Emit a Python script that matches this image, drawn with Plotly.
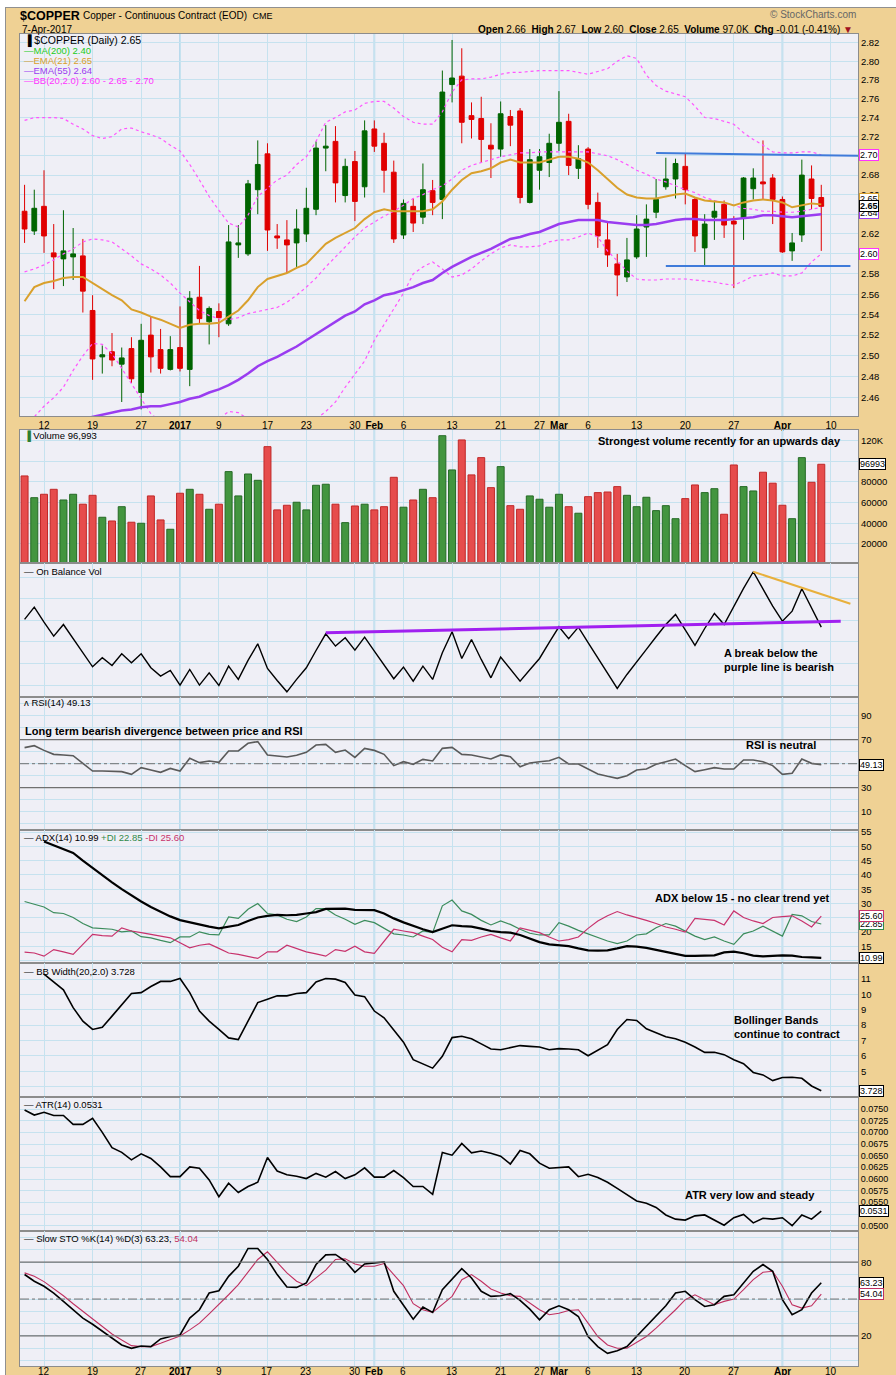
import math
import plotly.graph_objects as go

# ---------------- data ----------------
dates = [
    "2016-12-08", "2016-12-09", "2016-12-12", "2016-12-13", "2016-12-14", "2016-12-15", "2016-12-16",
    "2016-12-19", "2016-12-20", "2016-12-21", "2016-12-22", "2016-12-23",
    "2016-12-27", "2016-12-28", "2016-12-29", "2016-12-30",
    "2017-01-03", "2017-01-04", "2017-01-05", "2017-01-06",
    "2017-01-09", "2017-01-10", "2017-01-11", "2017-01-12", "2017-01-13",
    "2017-01-17", "2017-01-18", "2017-01-19", "2017-01-20",
    "2017-01-23", "2017-01-24", "2017-01-25", "2017-01-26", "2017-01-27",
    "2017-01-30", "2017-01-31", "2017-02-01", "2017-02-02", "2017-02-03",
    "2017-02-06", "2017-02-07", "2017-02-08", "2017-02-09", "2017-02-10",
    "2017-02-13", "2017-02-14", "2017-02-15", "2017-02-16", "2017-02-17",
    "2017-02-21", "2017-02-22", "2017-02-23", "2017-02-24",
    "2017-02-27", "2017-02-28", "2017-03-01", "2017-03-02", "2017-03-03",
    "2017-03-06", "2017-03-07", "2017-03-08", "2017-03-09", "2017-03-10",
    "2017-03-13", "2017-03-14", "2017-03-15", "2017-03-16", "2017-03-17",
    "2017-03-20", "2017-03-21", "2017-03-22", "2017-03-23", "2017-03-24",
    "2017-03-27", "2017-03-28", "2017-03-29", "2017-03-30", "2017-03-31",
    "2017-04-03", "2017-04-04", "2017-04-05", "2017-04-06", "2017-04-07",
]
future_dates = ["2017-04-10", "2017-04-11", "2017-04-12", "2017-04-13"]

opens = [
    2.643, 2.623, 2.648, 2.601, 2.595, 2.597, 2.598, 2.544, 2.499, 2.504,
    2.492, 2.507, 2.465, 2.520, 2.506, 2.487, 2.508, 2.487, 2.557, 2.533,
    2.543, 2.531, 2.609, 2.600, 2.665, 2.702, 2.618, 2.614, 2.611, 2.620,
    2.645, 2.708, 2.715, 2.659, 2.694, 2.668, 2.728, 2.713, 2.683, 2.619,
    2.648, 2.637, 2.664, 2.655, 2.775, 2.784, 2.742, 2.739, 2.711, 2.707,
    2.741, 2.747, 2.652, 2.685, 2.693, 2.713, 2.736, 2.687, 2.707, 2.652,
    2.614, 2.590, 2.577, 2.597, 2.627, 2.642, 2.668, 2.676, 2.689, 2.655,
    2.606, 2.637, 2.650, 2.633, 2.636, 2.666, 2.673, 2.677, 2.655, 2.603,
    2.619, 2.676, 2.657,
]
highs = [
    2.670, 2.665, 2.685, 2.630, 2.644, 2.626, 2.615, 2.559, 2.510, 2.522,
    2.508, 2.518, 2.531, 2.538, 2.526, 2.519, 2.548, 2.563, 2.588, 2.548,
    2.551, 2.629, 2.629, 2.675, 2.716, 2.713, 2.630, 2.634, 2.645, 2.667,
    2.715, 2.732, 2.731, 2.697, 2.705, 2.737, 2.737, 2.724, 2.695, 2.655,
    2.656, 2.692, 2.675, 2.790, 2.823, 2.814, 2.756, 2.762, 2.734, 2.757,
    2.748, 2.750, 2.707, 2.707, 2.723, 2.768, 2.744, 2.711, 2.709, 2.662,
    2.633, 2.600, 2.616, 2.639, 2.650, 2.676, 2.698, 2.697, 2.702, 2.657,
    2.640, 2.654, 2.654, 2.638, 2.678, 2.687, 2.716, 2.681, 2.658, 2.621,
    2.696, 2.690, 2.670,
]
lows = [
    2.611, 2.619, 2.601, 2.565, 2.568, 2.574, 2.542, 2.477, 2.483, 2.490,
    2.456, 2.474, 2.449, 2.484, 2.483, 2.486, 2.485, 2.471, 2.531, 2.511,
    2.518, 2.529, 2.596, 2.598, 2.640, 2.603, 2.605, 2.581, 2.587, 2.612,
    2.639, 2.684, 2.652, 2.652, 2.633, 2.657, 2.704, 2.662, 2.611, 2.615,
    2.622, 2.630, 2.639, 2.635, 2.756, 2.713, 2.718, 2.693, 2.677, 2.699,
    2.710, 2.651, 2.651, 2.665, 2.678, 2.705, 2.680, 2.676, 2.645, 2.606,
    2.587, 2.558, 2.572, 2.595, 2.597, 2.636, 2.665, 2.656, 2.650, 2.602,
    2.588, 2.614, 2.616, 2.566, 2.614, 2.655, 2.655, 2.630, 2.601, 2.593,
    2.612, 2.645, 2.603,
]
closes = [
    2.625, 2.646, 2.618, 2.597, 2.603, 2.600, 2.563, 2.497, 2.501, 2.496,
    2.498, 2.478, 2.515, 2.499, 2.488, 2.506, 2.488, 2.556, 2.536, 2.546,
    2.537, 2.612, 2.611, 2.671, 2.691, 2.624, 2.616, 2.609, 2.625, 2.646,
    2.708, 2.710, 2.672, 2.689, 2.653, 2.726, 2.710, 2.685, 2.615, 2.651,
    2.631, 2.665, 2.652, 2.767, 2.782, 2.735, 2.738, 2.717, 2.707, 2.744,
    2.732, 2.657, 2.696, 2.699, 2.713, 2.735, 2.690, 2.697, 2.650, 2.618,
    2.599, 2.579, 2.594, 2.625, 2.635, 2.655, 2.676, 2.692, 2.665, 2.618,
    2.630, 2.643, 2.629, 2.630, 2.677, 2.677, 2.671, 2.655, 2.602, 2.611,
    2.680, 2.656, 2.648,
]
volumes = [
    85700, 64700, 68000, 72800, 62500, 68000, 58400, 67000, 45800, 42200,
    56000, 41000, 40000, 66400, 43200, 34200, 69000, 72800, 68000, 53500,
    58400, 89900, 66400, 87600, 81500, 114000, 52900, 57400, 60300, 52900,
    76700, 77700, 58400, 40600, 56700, 58400, 52900, 56000, 84400, 55500,
    62500, 72800, 64700, 124600, 91500, 120500, 86700, 103400, 74400, 94700,
    57000, 53500, 66400, 63200, 55500, 68000, 56000, 49700, 65700, 69600,
    70200, 75400, 67000, 56000, 65100, 52200, 57000, 44400, 63800, 77000,
    69600, 73400, 48700, 96300, 75400, 71200, 89300, 78700, 57400, 44400,
    103400, 79600, 96993,
]
ema21 = [
    2.553, 2.567, 2.571, 2.573, 2.576, 2.577, 2.577, 2.571, 2.565, 2.559,
    2.554, 2.545, 2.542, 2.538, 2.535, 2.531, 2.527, 2.530, 2.531, 2.531,
    2.532, 2.538, 2.544, 2.554, 2.567, 2.575, 2.578, 2.581, 2.586, 2.590,
    2.600, 2.610, 2.616, 2.621, 2.626, 2.635, 2.642, 2.645, 2.643, 2.643,
    2.643, 2.643, 2.645, 2.653, 2.665, 2.675, 2.682, 2.684, 2.687, 2.693,
    2.696, 2.693, 2.693, 2.693, 2.696, 2.699, 2.699, 2.697, 2.693, 2.685,
    2.676, 2.667, 2.660, 2.657, 2.656, 2.656, 2.658, 2.660, 2.661, 2.657,
    2.654, 2.653, 2.652, 2.649, 2.652, 2.654, 2.655, 2.654, 2.652, 2.647,
    2.649, 2.651, 2.650,
]
ema55 = [
    2.425, 2.428, 2.431, 2.434, 2.436, 2.438, 2.440, 2.442, 2.444, 2.446,
    2.448, 2.449, 2.451, 2.452, 2.452, 2.454, 2.456, 2.459, 2.461, 2.465,
    2.468, 2.472, 2.477, 2.483, 2.490, 2.495, 2.499, 2.504, 2.509, 2.515,
    2.521, 2.527, 2.533, 2.539, 2.543, 2.550, 2.554, 2.559, 2.561, 2.564,
    2.567, 2.571, 2.574, 2.581, 2.587, 2.592, 2.597, 2.601, 2.605, 2.610,
    2.615, 2.617, 2.620, 2.622, 2.626, 2.630, 2.632, 2.634, 2.634, 2.634,
    2.632, 2.631, 2.630, 2.629, 2.629, 2.630, 2.632, 2.634, 2.635, 2.635,
    2.634, 2.634, 2.634, 2.635, 2.636, 2.637, 2.639, 2.639, 2.638, 2.637,
    2.638, 2.639, 2.640,
]
bb_upper = [
    2.737, 2.740, 2.740, 2.740, 2.739, 2.733, 2.728, 2.721, 2.718, 2.720,
    2.728, 2.729, 2.725, 2.722, 2.718, 2.711, 2.705, 2.691, 2.675, 2.658,
    2.644, 2.631, 2.627, 2.639, 2.658, 2.667, 2.675, 2.680, 2.691, 2.699,
    2.715, 2.735, 2.740, 2.746, 2.748, 2.755, 2.757, 2.757, 2.750, 2.741,
    2.735, 2.733, 2.733, 2.746, 2.767, 2.780, 2.781, 2.781, 2.783, 2.786,
    2.788, 2.788, 2.789, 2.790, 2.790, 2.790, 2.790, 2.788, 2.786, 2.789,
    2.792, 2.800, 2.806, 2.803, 2.785, 2.774, 2.768, 2.765, 2.762, 2.752,
    2.740, 2.739, 2.736, 2.733, 2.724, 2.717, 2.711, 2.704, 2.703, 2.703,
    2.704, 2.704, 2.701,
]
bb_mid = [
    2.582, 2.585, 2.589, 2.594, 2.600, 2.605, 2.612, 2.615, 2.614, 2.612,
    2.605, 2.598, 2.590, 2.585, 2.579, 2.571, 2.561, 2.552, 2.544, 2.539,
    2.536, 2.535, 2.537, 2.541, 2.543, 2.545, 2.547, 2.552, 2.559, 2.567,
    2.576, 2.587, 2.597, 2.607, 2.617, 2.626, 2.632, 2.638, 2.643, 2.649,
    2.656, 2.660, 2.665, 2.669, 2.676, 2.685, 2.690, 2.693, 2.696, 2.699,
    2.701, 2.703, 2.703, 2.704, 2.704, 2.704, 2.704, 2.704, 2.704, 2.702,
    2.700, 2.696, 2.691, 2.685, 2.681, 2.676, 2.673, 2.669, 2.665, 2.662,
    2.657, 2.654, 2.651, 2.649, 2.646, 2.645, 2.643, 2.643, 2.642, 2.642,
    2.643, 2.645, 2.647,
]
bb_lower = [
    2.428, 2.442, 2.452, 2.460, 2.470, 2.486, 2.500, 2.512, 2.511, 2.502,
    2.488, 2.473, 2.459, 2.445, 2.438, 2.430, 2.420, 2.413, 2.412, 2.425,
    2.440, 2.447, 2.446, 2.440, 2.430, 2.424, 2.420, 2.424, 2.428, 2.436,
    2.440, 2.447, 2.456, 2.470, 2.483, 2.495, 2.515, 2.530, 2.546, 2.561,
    2.580, 2.587, 2.592, 2.585, 2.577, 2.579, 2.585, 2.593, 2.600, 2.606,
    2.609, 2.607, 2.607, 2.608, 2.612, 2.614, 2.614, 2.617, 2.621, 2.617,
    2.603, 2.593, 2.583, 2.575, 2.574, 2.574, 2.575, 2.575, 2.575, 2.574,
    2.573, 2.572, 2.570, 2.569, 2.573, 2.578, 2.579, 2.581, 2.578, 2.578,
    2.581, 2.592, 2.600,
]
obv = [
    809, 923, 784, 654, 762, 633, 494, 370, 454, 382,
    491, 407, 491, 361, 284, 336, 200, 345, 200, 314,
    197, 376, 253, 429, 583, 355, 243, 138, 253, 361,
    521, 676, 562, 639, 525, 645, 515, 392, 259, 367,
    237, 376, 253, 500, 695, 447, 623, 438, 268, 460,
    345, 237, 342, 447, 596, 741, 630, 738, 593, 454,
    314, 169, 299, 410, 531, 648, 762, 855, 707, 568,
    725, 864, 762, 936, 1096, 1251, 1093, 932, 793, 886,
    1093, 920, 738,
]
rsi = [
    63.4, 65.0, 61.1, 57.8, 57.3, 56.7, 50.3, 43.9, 43.9, 43.6,
    43.4, 41.1, 46.7, 44.8, 42.8, 46.1, 43.9, 54.5, 50.9, 52.3,
    51.1, 60.6, 60.6, 67.0, 68.4, 57.3, 56.4, 55.6, 57.0, 59.5,
    65.6, 66.1, 59.5, 61.4, 55.3, 62.8, 61.1, 57.8, 48.4, 51.7,
    49.5, 53.6, 52.3, 62.8, 63.6, 57.8, 57.3, 55.6, 53.9, 57.3,
    55.9, 47.5, 50.6, 51.7, 52.5, 55.3, 49.8, 49.8, 45.6, 41.4,
    39.5, 37.8, 40.0, 44.8, 45.6, 49.5, 51.7, 53.9, 48.4, 43.4,
    45.0, 46.7, 45.6, 45.6, 53.1, 53.1, 51.7, 48.4, 41.1, 42.0,
    53.9, 50.3, 49.13,
]
adx = [
    None, None, 51.7, 50.3, 49.1, 47.7, 45.0, 42.4, 39.7, 37.4,
    35.0, 32.7, 30.7, 28.8, 27.2, 25.5, 24.2, 23.4, 22.7, 21.9,
    21.3, 21.8, 22.5, 23.9, 25.1, 25.7, 26.0, 25.9, 26.0, 26.5,
    27.0, 28.1, 28.2, 28.2, 27.8, 27.7, 27.7, 26.5, 24.8, 23.4,
    22.1, 21.0, 20.0, 21.3, 22.4, 22.1, 21.9, 21.2, 20.4, 20.0,
    19.8, 19.0, 17.8, 16.5, 15.7, 15.4, 15.1, 14.3, 13.6, 13.5,
    13.6, 14.3, 15.1, 14.9, 14.5, 13.8, 13.1, 12.4, 11.7, 11.7,
    11.9, 11.9, 12.9, 13.2, 12.6, 11.8, 11.5, 11.7, 11.9, 11.8,
    11.3, 11.2, 10.99,
]
plus_di = [
    30.7, 29.8, 28.8, 26.8, 26.5, 25.1, 23.0, 21.5, 21.2, 21.0,
    20.1, 20.4, 18.4, 18.0, 17.1, 16.3, 18.3, 18.3, 20.1, 19.2,
    19.0, 25.3, 24.8, 28.0, 30.0, 26.5, 26.0, 24.5, 23.7, 25.3,
    28.2, 28.2, 26.0, 24.5, 22.7, 24.1, 23.3, 21.2, 19.4, 19.0,
    18.3, 20.4, 19.8, 29.2, 31.2, 27.4, 26.2, 24.1, 22.5, 23.9,
    22.7, 21.0, 19.6, 19.0, 19.0, 23.3, 22.1, 20.6, 19.4, 18.0,
    16.9, 16.0, 16.9, 19.0, 19.4, 21.5, 23.0, 22.1, 20.4, 18.6,
    17.4, 18.3, 16.9, 15.7, 19.4, 20.4, 22.1, 20.4, 18.6, 26.2,
    25.7, 23.7, 22.85,
]
minus_di = [
    13.0, 12.7, 11.6, 13.9, 13.1, 12.2, 15.7, 19.2, 18.8, 18.6,
    21.5, 20.4, 19.8, 19.2, 18.6, 18.0, 16.3, 14.5, 15.4, 15.9,
    14.3, 12.7, 12.2, 11.5, 10.8, 13.1, 13.1, 15.4, 14.3, 13.1,
    12.4, 11.6, 13.9, 13.3, 15.1, 13.1, 12.6, 16.9, 21.0, 20.4,
    19.8, 18.6, 17.4, 14.7, 13.1, 17.4, 17.1, 18.3, 19.2, 18.0,
    16.9, 21.5, 20.6, 19.8, 18.3, 16.9, 17.4, 18.3, 21.3, 23.9,
    25.7, 27.2, 26.0, 25.1, 24.1, 23.0, 21.8, 21.0, 20.0, 24.8,
    24.5, 24.1, 22.5, 27.4, 25.1, 23.9, 23.0, 25.1, 25.4, 25.7,
    23.9, 21.8, 25.6,
]
bb_width = [
    None, None, 11.33, 10.82, 10.30, 9.14, 8.26, 7.72, 7.87, 8.59,
    9.36, 10.06, 10.12, 10.52, 10.85, 10.85, 11.04, 10.12, 8.92, 8.26,
    7.72, 7.17, 7.06, 8.26, 9.47, 9.69, 9.91, 9.91, 10.06, 10.12,
    10.82, 11.04, 11.00, 10.78, 9.97, 9.86, 8.92, 8.48, 7.72, 6.89,
    5.75, 5.49, 5.20, 5.97, 7.19, 7.28, 7.11, 6.78, 6.45, 6.40,
    6.56, 6.67, 6.62, 6.58, 6.40, 6.47, 6.45, 6.40, 6.01, 6.36,
    6.73, 7.72, 8.37, 8.31, 7.76, 7.50, 7.24, 7.11, 6.89, 6.58,
    6.23, 6.23, 6.08, 5.75, 5.49, 4.92, 4.76, 4.39, 4.59, 4.61,
    4.54, 4.04, 3.728,
]
atr = [
    0.0748, 0.0737, 0.0743, 0.0736, 0.0736, 0.0717, 0.0717, 0.0730, 0.0700, 0.0667,
    0.0657, 0.0641, 0.0654, 0.0644, 0.0626, 0.0605, 0.0605, 0.0626, 0.0623, 0.0598,
    0.0562, 0.0591, 0.0571, 0.0584, 0.0593, 0.0646, 0.0617, 0.0609, 0.0606, 0.0601,
    0.0612, 0.0604, 0.0616, 0.0601, 0.0609, 0.0624, 0.0604, 0.0604, 0.0618, 0.0603,
    0.0584, 0.0584, 0.0567, 0.0657, 0.0651, 0.0676, 0.0656, 0.0660, 0.0655, 0.0649,
    0.0632, 0.0661, 0.0654, 0.0634, 0.0623, 0.0624, 0.0626, 0.0605, 0.0610, 0.0603,
    0.0593, 0.0580, 0.0566, 0.0553, 0.0548, 0.0539, 0.0523, 0.0514, 0.0512, 0.0521,
    0.0523, 0.0512, 0.0501, 0.0517, 0.0524, 0.0506, 0.0516, 0.0514, 0.0517, 0.0500,
    0.0523, 0.0514, 0.0531,
]
sto_k = [
    70.0, 64.5, 60.4, 54.9, 48.1, 41.3, 34.5, 29.5, 24.1, 18.1,
    12.6, 9.9, 11.8, 11.3, 17.5, 19.5, 20.8, 34.5, 41.3, 54.9,
    56.8, 68.5, 76.7, 91.2, 91.2, 82.2, 69.9, 59.8, 59.5, 63.1,
    78.1, 86.0, 86.3, 80.8, 71.8, 78.6, 79.5, 80.3, 56.3, 45.4,
    33.6, 43.5, 39.1, 57.6, 65.8, 74.8, 67.2, 56.3, 52.2, 52.7,
    54.4, 48.9, 41.8, 33.1, 41.3, 44.5, 41.3, 35.8, 19.5, 11.3,
    5.8, 8.0, 11.3, 19.5, 27.6, 36.4, 44.5, 54.9, 56.3, 49.5,
    44.0, 45.4, 52.2, 53.5, 63.1, 72.6, 78.1, 72.6, 49.5, 37.2,
    41.3, 54.9, 63.23,
]
sto_d = [
    71.3, 68.5, 64.2, 58.7, 52.7, 46.2, 39.9, 33.6, 27.6, 21.6,
    16.7, 12.1, 11.3, 11.3, 14.0, 16.7, 20.0, 24.9, 30.4, 38.0,
    45.4, 53.5, 61.7, 71.8, 82.2, 88.5, 79.5, 71.3, 64.5, 60.9,
    67.2, 73.5, 82.2, 82.7, 78.6, 76.7, 76.7, 78.9, 69.9, 60.9,
    46.2, 41.3, 39.1, 45.4, 52.2, 65.8, 69.9, 64.5, 58.2, 54.9,
    52.7, 52.2, 46.7, 41.3, 37.2, 38.5, 40.7, 41.3, 30.4, 19.5,
    12.6, 9.9, 9.9, 14.5, 19.5, 26.3, 33.6, 41.3, 49.5, 53.5,
    49.5, 45.4, 48.1, 50.0, 57.6, 65.8, 71.8, 72.6, 60.4, 45.4,
    42.6, 44.5, 54.04,
]

# hand-drawn trend lines (dates, values)
price_resist_dates = ["2017-03-15", "2017-04-13"]
price_resist_vals = [2.703, 2.700]
price_support_dates = ["2017-03-16", "2017-04-12"]
price_support_vals = [2.588, 2.588]
obv_support_dates = ["2017-01-25", "2017-04-11"]
obv_support_vals = [685, 793]
obv_resist_dates = ["2017-03-29", "2017-04-12"]
obv_resist_vals = [1251, 954]

tick_dates = ["2016-12-12", "2016-12-19", "2016-12-27", "2017-01-03", "2017-01-09",
              "2017-01-17", "2017-01-23", "2017-01-30", "2017-02-01", "2017-02-06",
              "2017-02-13", "2017-02-21", "2017-02-27", "2017-03-01", "2017-03-06",
              "2017-03-13", "2017-03-20", "2017-03-27", "2017-04-03", "2017-04-10"]
tick_text = ["12", "19", "27", "<b>2017</b>", "9", "17", "23", "30", "<b>Feb</b>", "6",
             "13", "21", "27", "<b>Mar</b>", "6", "13", "20", "27", "<b>Apr</b>", "10"]
month_dates = ["2017-01-03", "2017-02-01", "2017-03-01", "2017-04-03"]

# ---------------- geometry / style ----------------
W, H = 896, 1375
LEFT, RIGHT, TOP, BOTTOM = 20, 858, 34, 1366
PANELS = [(34, 416), (430, 563), (563, 697), (697, 830),
          (830, 963), (963, 1097), (1097, 1231), (1231, 1366)]

TAN = "#EFD194"
PLOT_BG = "#EFEFF6"
GRID = "#C6E2EF"
BORDER = "#8C8C8C"
UP = "#006400"
DOWN = "#E00000"
FONT = "Liberation Sans, Arial, sans-serif"


def px(x):
    return (x - LEFT) / (RIGHT - LEFT)


def py(y):
    return (BOTTOM - y) / (BOTTOM - TOP)


axis_dates = dates + future_dates
pos = {d: i for i, d in enumerate(axis_dates)}
xs = [pos[d] for d in dates]
tick_pos = [pos[d] for d in tick_dates]
x_range = [-0.47, 85.78]

fig = go.Figure()

# ---- price panel ----
for series in (bb_upper, bb_mid, bb_lower):
    fig.add_trace(go.Scatter(x=xs, y=series, mode="lines", xaxis="x", yaxis="y",
                             line=dict(color="#FF55FF", width=1.2, dash="dot"), hoverinfo="skip"))
fig.add_trace(go.Scatter(x=xs, y=ema55, mode="lines", xaxis="x", yaxis="y",
                         line=dict(color="#9A3CF0", width=2.5), hoverinfo="skip"))
fig.add_trace(go.Scatter(x=xs, y=ema21, mode="lines", xaxis="x", yaxis="y",
                         line=dict(color="#D9A02C", width=2), hoverinfo="skip"))
for ds, vs in [(price_resist_dates, price_resist_vals), (price_support_dates, price_support_vals)]:
    fig.add_trace(go.Scatter(x=[pos[d] for d in ds], y=vs, mode="lines", xaxis="x", yaxis="y",
                             line=dict(color="#3F7BDA", width=2), hoverinfo="skip"))
fig.add_trace(go.Candlestick(
    x=xs, open=opens, high=highs, low=lows, close=closes, xaxis="x", yaxis="y",
    increasing=dict(line=dict(color=UP, width=1), fillcolor=UP),
    decreasing=dict(line=dict(color=DOWN, width=1), fillcolor=DOWN),
    whiskerwidth=0, hoverinfo="skip"))

# ---- volume ----
up_day = [c >= o for o, c in zip(opens, closes)]
fig.add_trace(go.Bar(
    x=xs, y=volumes, xaxis="x2", yaxis="y2", width=0.72,
    marker=dict(color=["#43953F" if u else "#E64C4C" for u in up_day],
                line=dict(color=["#256A25" if u else "#C02828" for u in up_day], width=1)),
    hoverinfo="skip"))

# ---- OBV ----
fig.add_trace(go.Scatter(x=xs, y=obv, mode="lines", xaxis="x3", yaxis="y3",
                         line=dict(color="black", width=1.4), hoverinfo="skip"))
fig.add_trace(go.Scatter(x=[pos[d] for d in obv_support_dates], y=obv_support_vals, mode="lines",
                         xaxis="x3", yaxis="y3", line=dict(color="#A020F0", width=3), hoverinfo="skip"))
fig.add_trace(go.Scatter(x=[pos[d] for d in obv_resist_dates], y=obv_resist_vals, mode="lines",
                         xaxis="x3", yaxis="y3", line=dict(color="#E8B03C", width=2), hoverinfo="skip"))

# ---- RSI ----
fig.add_trace(go.Scatter(x=xs, y=rsi, mode="lines", xaxis="x4", yaxis="y4",
                         line=dict(color="#5A5A5A", width=1.6), hoverinfo="skip"))

# ---- ADX ----
fig.add_trace(go.Scatter(x=xs, y=plus_di, mode="lines", xaxis="x5", yaxis="y5",
                         line=dict(color="#3C8C5C", width=1.2), hoverinfo="skip"))
fig.add_trace(go.Scatter(x=xs, y=minus_di, mode="lines", xaxis="x5", yaxis="y5",
                         line=dict(color="#C8326C", width=1.2), hoverinfo="skip"))
fig.add_trace(go.Scatter(x=xs, y=adx, mode="lines", xaxis="x5", yaxis="y5",
                         line=dict(color="black", width=2.2), hoverinfo="skip"))

# ---- BB width / ATR ----
fig.add_trace(go.Scatter(x=xs, y=bb_width, mode="lines", xaxis="x6", yaxis="y6",
                         line=dict(color="black", width=1.6), hoverinfo="skip"))
fig.add_trace(go.Scatter(x=xs, y=atr, mode="lines", xaxis="x7", yaxis="y7",
                         line=dict(color="black", width=1.6), hoverinfo="skip"))

# ---- Slow stochastic ----
fig.add_trace(go.Scatter(x=xs, y=sto_d, mode="lines", xaxis="x8", yaxis="y8",
                         line=dict(color="#C03060", width=1.1), hoverinfo="skip"))
fig.add_trace(go.Scatter(x=xs, y=sto_k, mode="lines", xaxis="x8", yaxis="y8",
                         line=dict(color="black", width=1.6), hoverinfo="skip"))


# ---------------- axes ----------------
def lab(vals, hidden, fmt):
    # labels that sit under a value tag are left blank
    return ["" if v in hidden else fmt(v) for v in vals]


price_ticks = [round(2.46 + 0.02 * k, 2) for k in range(19)]
atr_ticks = [round(0.05 + 0.0025 * k, 4) for k in range(11)]
y_specs = [
    dict(type="log", range=[math.log10(2.4428), math.log10(2.8295)], tickvals=price_ticks,
         ticktext=lab(price_ticks, {2.60, 2.64, 2.70}, lambda v: "%.2f" % v)),
    dict(range=[1600, 130100], tickvals=[20000, 40000, 60000, 80000, 100000, 120000],
         ticktext=["20000", "40000", "60000", "80000", "", "120K"]),
    dict(range=[90, 1332], tickvals=[200, 400, 600, 800, 1000, 1200], showticklabels=False),
    dict(range=[-5.25, 105.6], tickvals=list(range(0, 101, 10)),
         ticktext=["", "10", "", "30", "", "", "", "70", "", "90", ""]),
    dict(range=[9.2, 55.7], tickvals=list(range(10, 56, 5)),
         ticktext=lab(list(range(10, 56, 5)), {10, 25}, str)),
    dict(range=[3.32, 12.05], tickvals=list(range(4, 12)),
         ticktext=lab(list(range(4, 12)), {4}, str)),
    dict(range=[0.04886, 0.07757], tickvals=atr_ticks,
         ticktext=lab(atr_ticks, {0.0525}, lambda v: "%.4f" % v), tickfont=dict(size=9, family=FONT)),
    dict(range=[-4.5, 105.4], tickvals=list(range(0, 101, 10)),
         ticktext=["", "", "20", "", "", "", "", "", "80", "", ""]),
]

layout = dict(
    width=W, height=H,
    margin=dict(l=LEFT, r=W - RIGHT, t=TOP, b=H - BOTTOM, autoexpand=False),
    paper_bgcolor=TAN, plot_bgcolor=PLOT_BG, showlegend=False,
    font=dict(family=FONT, size=10, color="black"),
)
for k, ((top, bot), ys) in enumerate(zip(PANELS, y_specs), start=1):
    sfx = "" if k == 1 else str(k)
    layout["xaxis" + sfx] = dict(
        anchor="y" + sfx, domain=[0, 1], range=x_range, tickvals=tick_pos, ticktext=tick_text,
        showticklabels=(k == 1), ticks="", showgrid=True, gridcolor=GRID, gridwidth=1,
        zeroline=False, showline=True, mirror=True, linecolor=BORDER, linewidth=1,
        tickfont=dict(size=10, family=FONT), fixedrange=True, rangeslider=dict(visible=False),
        automargin=False,
    )
    ax = dict(anchor="x" + sfx, domain=[py(bot), py(top)], side="right", ticks="",
              showgrid=True, gridcolor=GRID, gridwidth=1, zeroline=False, showline=True,
              mirror=True, linecolor=BORDER, linewidth=1, tickfont=dict(size=9.5, family=FONT),
              fixedrange=True, automargin=False)
    ax.update(ys)
    layout["yaxis" + sfx] = ax
fig.update_layout(**layout)

shapes = []
# slightly stronger month-boundary grid lines in every panel
for k, (top, bot) in enumerate(PANELS, start=1):
    sfx = "" if k == 1 else str(k)
    for d in month_dates:
        shapes.append(dict(type="line", xref="x" + sfx, yref="paper", x0=pos[d], x1=pos[d],
                           y0=py(bot), y1=py(top), line=dict(color="#B2D8EC", width=1.8),
                           layer="below"))
# reference lines
for yref, val, dash in [("y4", 70, "solid"), ("y4", 30, "solid"), ("y4", 50, "dashdot"),
                        ("y8", 80, "solid"), ("y8", 20, "solid"), ("y8", 50, "dashdot")]:
    shapes.append(dict(type="line", xref="paper", x0=0, x1=1, yref=yref, y0=val, y1=val,
                       line=dict(color="#707070", width=1.2 if dash == "solid" else 1, dash=dash),
                       layer="above"))
# white strip and frame at the very top / left
shapes.append(dict(type="rect", xref="paper", yref="paper", x0=px(0), x1=px(W), y0=py(7), y1=py(0),
                   fillcolor="white", line=dict(width=0), layer="below"))
shapes.append(dict(type="rect", xref="paper", yref="paper", x0=px(0), x1=px(5), y0=py(H), y1=py(0),
                   fillcolor="white", line=dict(width=0), layer="below"))
shapes.append(dict(type="line", xref="paper", yref="paper", x0=px(5), x1=px(W), y0=py(7.5), y1=py(7.5),
                   line=dict(color="#909090", width=1)))
shapes.append(dict(type="line", xref="paper", yref="paper", x0=px(5.5), x1=px(5.5), y0=py(H), y1=py(7.5),
                   line=dict(color="#909090", width=1)))
fig.update_layout(shapes=shapes)

# ---------------- text ----------------
ann = []


def note(x, y, text, size=10, color="black", xanchor="left", yanchor="middle", align="left"):
    ann.append(dict(xref="paper", yref="paper", x=px(x), y=py(y), text=text, showarrow=False,
                    xanchor=xanchor, yanchor=yanchor, align=align,
                    font=dict(size=size, color=color, family=FONT)))


def tag(yref, yval, text, border, bold=False, color="black"):
    ann.append(dict(xref="paper", x=1.0, xanchor="left", xshift=1, yref=yref, y=yval,
                    yanchor="middle", showarrow=False, text="<b>%s</b>" % text if bold else text,
                    bordercolor=border, borderwidth=1, borderpad=0, bgcolor="white",
                    font=dict(size=9, color=color, family=FONT)))


# bottom date labels, sitting just under the last panel (partly cut by the page edge)
for p, t in zip(tick_pos, tick_text):
    ann.append(dict(xref="x8", x=p, yref="paper", y=py(1371), text=t, showarrow=False,
                    xanchor="center", yanchor="middle", font=dict(size=10, family=FONT)))

# header
note(18, 16, "<b>$COPPER</b>", size=12.5)
note(81, 16, "Copper - Continuous Contract (EOD)  <span style='font-size:9px'>CME</span>", size=10)
note(20, 29, "7-Apr-2017", size=10)
note(858, 15, "\u00a9 StockCharts.com", size=10, color="#666666", xanchor="right")
note(855, 29, "<b>Open</b> 2.66  <b>High</b> 2.67  <b>Low</b> 2.60  <b>Close</b> 2.65  "
     "<b>Volume</b> 97.0K  <b>Chg</b> -0.01 (-0.41%) <span style='color:#A01020'>\u25BC</span>",
     size=10, xanchor="right")

# indicator legends
note(22, 41, "\u2590 $COPPER (Daily) 2.65", size=10.5)
note(22, 50.5, "\u2014MA(200) 2.40", size=9.5, color="#22CC22")
note(22, 60.5, "\u2014EMA(21) 2.65", size=9.5, color="#D9A02C")
note(22, 70.5, "\u2014EMA(55) 2.64", size=9.5, color="#9A3CF0")
note(22, 80.5, "\u2014BB(20,2.0) 2.60 - 2.65 - 2.70", size=9.5, color="#FF33FF")
note(22, 436, "<span style='color:#2E7D2E'>\u2590</span> Volume 96,993", size=9.5)
note(22, 571, "\u2014 On Balance Vol", size=9.5)
note(22, 702, "\u028C RSI(14) 49.13", size=9.5)
note(22, 837, "\u2014 ADX(14) 10.99 <span style='color:#2F8A4A'>+DI 22.85</span> "
     "<span style='color:#C8326C'>-DI 25.60</span>", size=9.5)
note(22, 971, "\u2014 BB Width(20,2.0) 3.728", size=9.5)
note(22, 1104, "\u2014 ATR(14) 0.0531", size=9.5)
note(22, 1238, "\u2014 Slow STO %K(14) %D(3) 63.23, <span style='color:#C03060'>54.04</span>", size=9.5)

# commentary
CS = 11
note(596, 441, "<b>Strongest volume recently for an upwards day</b>", size=CS)
note(722, 660, "<b>A break below the<br>purple line is bearish</b>", size=CS)
note(23, 731, "<b>Long term bearish divergence between price and RSI</b>", size=CS)
note(744, 745, "<b>RSI is neutral</b>", size=CS)
note(653, 898, "<b>ADX below 15 - no clear trend yet</b>", size=CS)
note(732, 1027, "<b>Bollinger Bands<br>continue to contract</b>", size=CS)
note(683, 1195, "<b>ATR very low and steady</b>", size=CS)

# value tags on the right axis
tag("y", math.log10(bb_upper[-1]), "2.70", "#FF33FF")
tag("y", math.log10(bb_lower[-1]), "2.60", "#FF33FF")
tag("y", math.log10(2.641), "2.64", "#9A3CF0")
tag("y", math.log10(2.655), "2.65", "#D9A02C")
tag("y", math.log10(closes[-1]), "2.65", "black", bold=True)
tag("y2", volumes[-1], "96993", "black")
tag("y4", rsi[-1], "49.13", "black")
tag("y5", plus_di[-1], "22.85", "#2F8A4A")
tag("y5", minus_di[-1], "25.60", "#C8326C")
tag("y5", adx[-1], "10.99", "black")
tag("y6", bb_width[-1], "3.728", "black")
tag("y7", atr[-1], "0.0531", "black")
tag("y8", sto_k[-1], "63.23", "black")
tag("y8", sto_d[-1], "54.04", "#C03060")

fig.update_layout(annotations=ann)
fig.write_html("out.html", config={"displayModeBar": False},
               post_script="document.body.style.margin='0';")
